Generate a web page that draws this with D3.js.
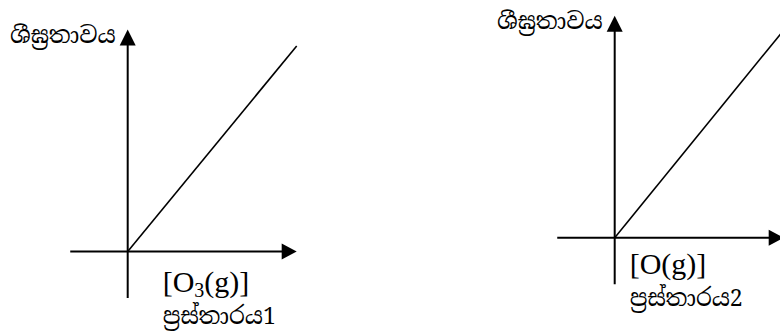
<!DOCTYPE html>
<html>
<head>
<meta charset="utf-8">
<script src="https://cdn.jsdelivr.net/npm/d3@7"></script>
<style>
  html, body { margin: 0; padding: 0; background: #fff; }
  svg { display: block; }
  .lbl { font-family: "Noto Serif Sinhala", "Iskoola Pota", "Noto Sans Sinhala", "LKLUG", "Liberation Serif", serif; }
  .conc { font-family: "Liberation Serif", "Times New Roman", serif; }
</style>
</head>
<body>
<div id="chart"></div>
<script>
// two sketch graphs: rate vs concentration
var graphNames = ["ප්‍රස්තාරය1", "ප්‍රස්තාරය2"];
var yTitle = "ශීඝ්‍රතාවය";
var species = [["O", "3", "(g)"], ["O", "", "(g)"]];
var lineStart = [[0, 0], [0, 0]];
var lineEnd = [[1, 0.926], [1, 0.935]];
var xExtent = [-0.34, 1];   // axis runs from left end to arrow tip
var yExtent = [-0.21, 1];

var W = 780, H = 331;
var svg = d3.select("#chart").append("svg")
    .attr("width", W)
    .attr("height", H);

// where each panel's origin sits and where its labels go
var origins = [[127.7, 251.5], [614.7, 237.7]];
var concPos = [[35, 40], [15, 36]];
var capPos = [[35, 72], [15, 68]];
var xSpan = 169, ySpan = 222;

graphNames.forEach(function (name, i) {
    var ox = origins[i][0], oy = origins[i][1];
    var x = d3.scaleLinear().domain([0, 1]).range([ox, ox + xSpan]);
    var y = d3.scaleLinear().domain([0, 1]).range([oy, oy - ySpan]);
    var g = svg.append("g");

    // axes
    g.append("line")
        .attr("x1", x(xExtent[0])).attr("y1", y(0))
        .attr("x2", x(xExtent[1]) - 10).attr("y2", y(0))
        .attr("stroke", "#000").attr("stroke-width", 2);
    g.append("line")
        .attr("x1", x(0)).attr("y1", y(yExtent[0]))
        .attr("x2", x(0)).attr("y2", y(yExtent[1]) + 10)
        .attr("stroke", "#000").attr("stroke-width", 2);

    // arrow heads
    var tx = x(xExtent[1]), ty = y(0);
    g.append("path")
        .attr("d", "M" + tx + "," + ty + "L" + (tx - 15) + "," + (ty - 8) + "L" + (tx - 15) + "," + (ty + 8) + "Z")
        .attr("fill", "#000");
    var ux = x(0), uy = y(yExtent[1]);
    g.append("path")
        .attr("d", "M" + ux + "," + uy + "L" + (ux - 8) + "," + (uy + 16) + "L" + (ux + 8) + "," + (uy + 16) + "Z")
        .attr("fill", "#000");

    // rate line
    var line = d3.line()
        .x(function (d) { return x(d[0]); })
        .y(function (d) { return y(d[1]); });
    g.append("path")
        .attr("d", line([lineStart[i], lineEnd[i]]))
        .attr("fill", "none")
        .attr("stroke", "#000")
        .attr("stroke-width", 1.6);

    // y title, sits left of the arrow tip
    g.append("text")
        .attr("class", "lbl")
        .attr("x", ux - 12)
        .attr("y", uy + 13)
        .attr("text-anchor", "end")
        .attr("font-size", 23)
        .text(yTitle);

    // concentration label
    var sp = species[i];
    var t = g.append("text")
        .attr("class", "conc")
        .attr("x", x(0) + concPos[i][0])
        .attr("y", y(0) + concPos[i][1])
        .attr("font-size", 30);
    t.append("tspan").text("[" + sp[0]);
    if (sp[1]) {
        t.append("tspan").attr("dy", 5).attr("font-size", 20).text(sp[1]);
        t.append("tspan").attr("dy", -5).text(sp[2] + "]");
    } else {
        t.append("tspan").text(sp[2] + "]");
    }

    // graph caption
    g.append("text")
        .attr("class", "lbl")
        .attr("x", x(0) + capPos[i][0])
        .attr("y", y(0) + capPos[i][1])
        .attr("font-size", 23)
        .text(name);
});
</script>
</body>
</html>
